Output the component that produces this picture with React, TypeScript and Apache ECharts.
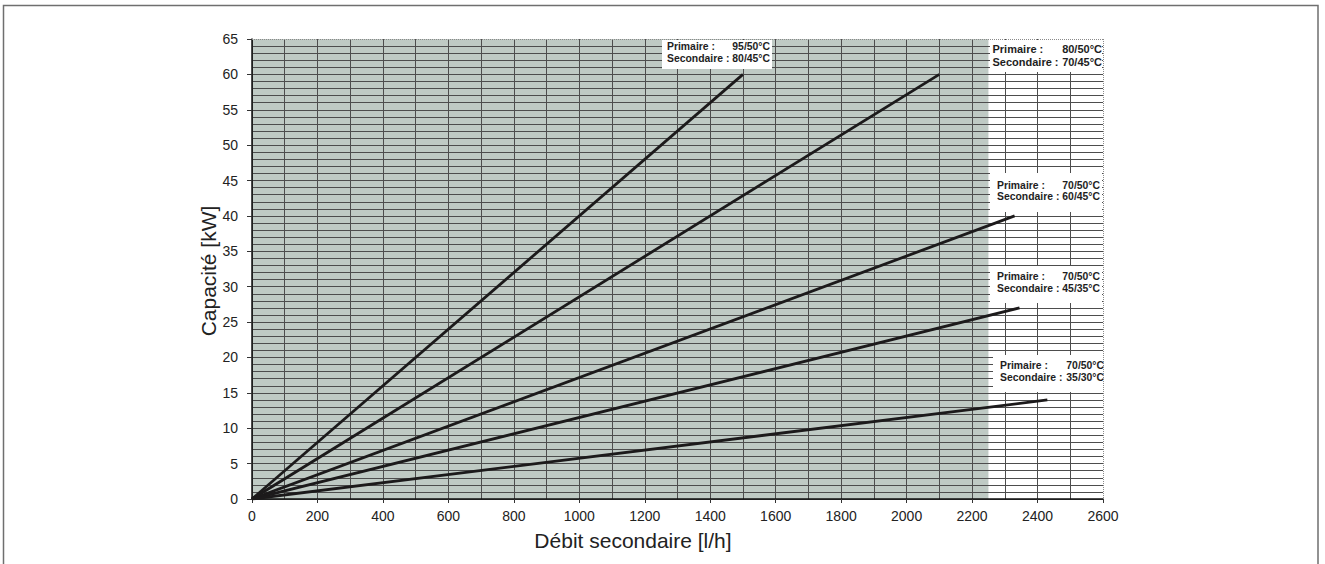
import React, { useEffect, useRef } from "react";
import * as echarts from "echarts";

// ---- data ----
const flowEnd = [1500, 2100, 2330, 2345, 2430]; // l/h at the end of each curve
const capacityEnd = [60, 60, 40, 27, 14]; // kW at the end of each curve
const primaryTemps = ["95/50°C", "80/50°C", "70/50°C", "70/50°C", "70/50°C"];
const secondaryTemps = ["80/45°C", "70/45°C", "60/45°C", "45/35°C", "35/30°C"];
const shadedFlowRange = [0, 2250];
const xTitle = "Débit secondaire [l/h]";
const yTitle = "Capacité [kW]";

// ---- layout ----
const FONT = "'Liberation Sans', Arial, Helvetica, sans-serif";
const GRID = { left: 252, right: 222, top: 39, bottom: 65 };
const labelBoxes = [
  { x: 662, y: 40, w: 110, h: 29, tl: 667, tr: 770, y1: 46.7, y2: 58.7, fs: 10.4 },
  { x: 990, y: 40, w: 112, h: 32, tl: 992.5, tr: 1102, y1: 49, y2: 62.3, fs: 11 },
  { x: 990, y: 173, w: 112, h: 39, tl: 997, tr: 1100, y1: 185, y2: 196.5, fs: 10.4 },
  { x: 990, y: 266, w: 112, h: 37, tl: 997, tr: 1100, y1: 276, y2: 288.3, fs: 10.4 },
  { x: 993, y: 355, w: 112, h: 37, tl: 1000, tr: 1104, y1: 365, y2: 377.3, fs: 10.4 },
];

export default function App() {
  const ref = useRef<HTMLDivElement>(null);

  useEffect(() => {
    if (!ref.current) return;
    const chart = echarts.init(ref.current, null, { renderer: "svg" });

    const gridColor = "#4d4d4d";

    const curveSeries = flowEnd.map((fx, i) => ({
      type: "line",
      name: `${primaryTemps[i]} / ${secondaryTemps[i]}`,
      data: [
        [0, 0],
        [fx, capacityEnd[i]],
      ],
      symbol: "none",
      silent: true,
      z: 3,
      lineStyle: { color: "#1c1a1b", width: 2.8 },
    }));

    const labelGraphics: any[] = [];
    labelBoxes.forEach((b, i) => {
      labelGraphics.push({
        type: "rect",
        z: 100,
        shape: { x: b.x, y: b.y, width: b.w, height: b.h },
        style: { fill: "#ffffff" },
      });
      const base = {
        type: "text",
        z: 101,
      };
      const st = (text: string, align: string) => ({
        text,
        fill: "#1e1e1e",
        font: `bold ${b.fs}px ${FONT}`,
        align,
        verticalAlign: "middle",
      });
      labelGraphics.push({ ...base, x: b.tl, y: b.y1, style: st("Primaire :", "left") });
      labelGraphics.push({ ...base, x: b.tr, y: b.y1, style: st(primaryTemps[i], "right") });
      labelGraphics.push({ ...base, x: b.tl, y: b.y2, style: st("Secondaire :", "left") });
      labelGraphics.push({ ...base, x: b.tr, y: b.y2, style: st(secondaryTemps[i], "right") });
    });

    const option: any = {
      animation: false,
      backgroundColor: "#ffffff",
      grid: { ...GRID },
      xAxis: {
        type: "value",
        min: 0,
        max: 2600,
        interval: 200,
        z: 1,
        axisLine: { show: true, onZero: false, lineStyle: { color: "#111", width: 1.5 } },
        axisTick: { show: true, length: 4, lineStyle: { color: "#333", width: 1 } },
        axisLabel: {
          fontSize: 14,
          color: "#222",
          margin: 10,
          fontFamily: FONT,
          formatter: (v: number) => String(v),
        },
        splitLine: { show: true, showMaxLine: false, lineStyle: { color: gridColor, width: 1 } },
        minorTick: { show: false, splitNumber: 2 },
        minorSplitLine: { show: true, lineStyle: { color: gridColor, width: 1 } },
      },
      yAxis: {
        type: "value",
        min: 0,
        max: 65,
        interval: 5,
        z: 1,
        axisLine: { show: true, onZero: false, lineStyle: { color: "#111", width: 1.5 } },
        axisTick: { show: true, length: 5, lineStyle: { color: "#333", width: 1 } },
        axisLabel: {
          fontSize: 14,
          color: "#222",
          margin: 14,
          fontFamily: FONT,
          formatter: (v: number) => String(v),
        },
        splitLine: { show: true, showMaxLine: false, lineStyle: { color: gridColor, width: 1 } },
        minorTick: { show: false, splitNumber: 5 },
        minorSplitLine: { show: true, lineStyle: { color: gridColor, width: 1 } },
      },
      series: [
        {
          type: "line",
          name: "zone",
          data: [
            [shadedFlowRange[0], 65],
            [shadedFlowRange[1], 65],
          ],
          symbol: "none",
          silent: true,
          z: 0,
          lineStyle: { width: 0, opacity: 0 },
          areaStyle: { color: "#bfcac4", opacity: 1 },
        },
        ...curveSeries,
      ],
      graphic: [
        {
          type: "rect",
          z: 200,
          silent: true,
          shape: { x: 3.5, y: 5.5, width: 1314.5, height: 620 },
          style: { fill: "none", stroke: "#6f6f6f", lineWidth: 1.5 },
        },
        ...labelGraphics,
        {
          type: "line",
          z: 150,
          shape: { x1: 252, y1: 39.5, x2: 1103, y2: 39.5 },
          style: { stroke: "#8a8a8a", lineWidth: 1, lineDash: [1, 1] },
        },
        {
          type: "line",
          z: 150,
          shape: { x1: 1103.5, y1: 39, x2: 1103.5, y2: 499 },
          style: { stroke: "#8a8a8a", lineWidth: 1, lineDash: [1, 1] },
        },
        {
          type: "text",
          z: 150,
          x: 633,
          y: 540,
          style: {
            text: xTitle,
            fill: "#222",
            font: `21px ${FONT}`,
            align: "center",
            verticalAlign: "middle",
          },
        },
        {
          type: "text",
          z: 150,
          x: 208,
          y: 271,
          rotation: Math.PI / 2,
          style: {
            text: yTitle,
            fill: "#222",
            font: `21px ${FONT}`,
            align: "center",
            verticalAlign: "middle",
          },
        },
      ],
    };

    chart.setOption(option);
    return () => chart.dispose();
  }, []);

  return (
    <div
      ref={ref}
      style={{ position: "absolute", left: 0, top: 0, width: 1325, height: 564 }}
    />
  );
}
